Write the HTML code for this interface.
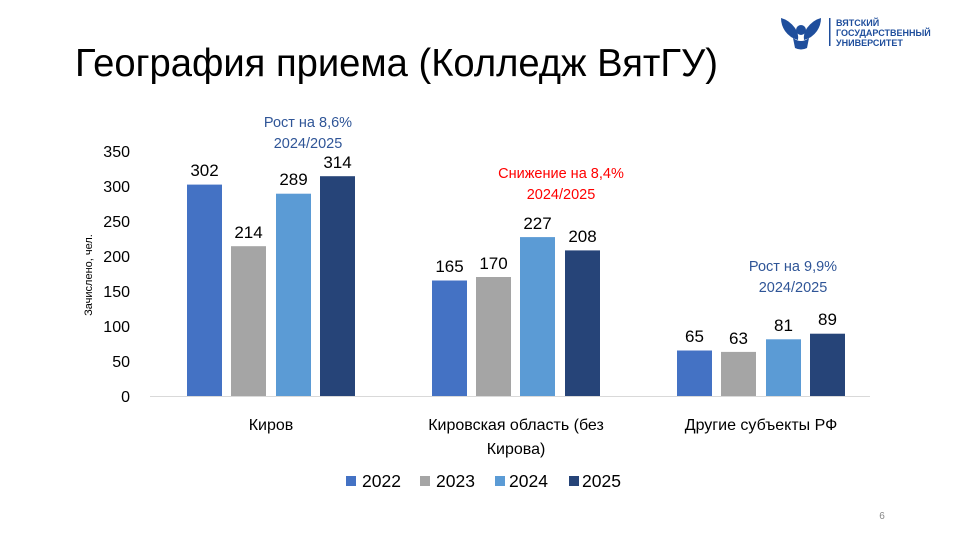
<!DOCTYPE html>
<html><head><meta charset="utf-8"><style>
body{margin:0;background:#fff;}
</style></head><body>
<svg width="960" height="540" xmlns="http://www.w3.org/2000/svg" font-family="Liberation Sans, sans-serif">
<rect width="960" height="540" fill="#fff"/>
<g fill="#1f4e9c">
<path d="M781 18 q8 2 14 10 q4 6 3 12 q-8 -2 -13 -9 q-4 -6 -4 -13z"/>
<path d="M821 18 q-8 2 -14 10 q-4 6 -3 12 q8 -2 13 -9 q4 -6 4 -13z"/>
<circle cx="801" cy="30" r="5"/>
<path d="M793 38 q8 6 16 0 l-2 10 q-6 3 -12 0z"/>
<rect x="829" y="18" width="1.5" height="28"/>
</g>
<text x="836" y="26" font-size="9" font-weight="bold" fill="#1f4e9c">ВЯТСКИЙ</text>
<text x="836" y="36" font-size="9" font-weight="bold" fill="#1f4e9c">ГОСУДАРСТВЕННЫЙ</text>
<text x="836" y="46" font-size="9" font-weight="bold" fill="#1f4e9c">УНИВЕРСИТЕТ</text>
<text x="75" y="76" font-size="39" fill="#000" textLength="643" lengthAdjust="spacingAndGlyphs">География приема (Колледж ВятГУ)</text>
<g font-size="16" fill="#000" text-anchor="end">
<text x="130" y="402">0</text><text x="130" y="367">50</text><text x="130" y="332">100</text>
<text x="130" y="297">150</text><text x="130" y="262">200</text><text x="130" y="227">250</text>
<text x="130" y="192">300</text><text x="130" y="157">350</text>
</g>
<text transform="translate(92,275) rotate(-90)" font-size="11" text-anchor="middle">Зачислено, чел.</text>
<line x1="150" y1="396.5" x2="870" y2="396.5" stroke="#d9d9d9" stroke-width="1"/>
<g>
<rect x="187" y="184.6" width="35" height="211.4" fill="#4472C4"/>
<rect x="231" y="246.2" width="35" height="149.8" fill="#A5A5A5"/>
<rect x="276" y="193.7" width="35" height="202.3" fill="#5B9BD5"/>
<rect x="320" y="176.2" width="35" height="219.8" fill="#264478"/>
<rect x="432" y="280.5" width="35" height="115.5" fill="#4472C4"/>
<rect x="476" y="277" width="35" height="119" fill="#A5A5A5"/>
<rect x="520" y="237.1" width="35" height="158.9" fill="#5B9BD5"/>
<rect x="565" y="250.4" width="35" height="145.6" fill="#264478"/>
<rect x="677" y="350.5" width="35" height="45.5" fill="#4472C4"/>
<rect x="721" y="351.9" width="35" height="44.1" fill="#A5A5A5"/>
<rect x="766" y="339.3" width="35" height="56.7" fill="#5B9BD5"/>
<rect x="810" y="333.7" width="35" height="62.3" fill="#264478"/>
</g>
<g font-size="17" fill="#000" text-anchor="middle">
<text x="204.5" y="176">302</text><text x="248.5" y="238">214</text><text x="293.5" y="185">289</text><text x="337.5" y="168">314</text>
<text x="449.5" y="272">165</text><text x="493.5" y="269">170</text><text x="537.5" y="229">227</text><text x="582.5" y="242">208</text>
<text x="694.5" y="342">65</text><text x="738.5" y="344">63</text><text x="783.5" y="331">81</text><text x="827.5" y="325">89</text>
</g>
<g font-size="14.5" text-anchor="middle">
<text x="308" y="127" fill="#2f5597">Рост на 8,6%</text>
<text x="308" y="148" fill="#2f5597">2024/2025</text>
<text x="561" y="178" fill="#ff0000">Снижение на 8,4%</text>
<text x="561" y="199" fill="#ff0000">2024/2025</text>
<text x="793" y="271" fill="#2f5597">Рост на 9,9%</text>
<text x="793" y="292" fill="#2f5597">2024/2025</text>
</g>
<g font-size="16" fill="#000" text-anchor="middle">
<text x="271" y="430">Киров</text>
<text x="516" y="430">Кировская область (без</text>
<text x="516" y="454">Кирова)</text>
<text x="761" y="430">Другие субъекты РФ</text>
</g>
<g font-size="17.5" fill="#000">
<rect x="346" y="476" width="10" height="10" fill="#4472C4"/><text x="362" y="487">2022</text>
<rect x="420" y="476" width="10" height="10" fill="#A5A5A5"/><text x="436" y="487">2023</text>
<rect x="495" y="476" width="10" height="10" fill="#5B9BD5"/><text x="509" y="487">2024</text>
<rect x="569" y="476" width="10" height="10" fill="#264478"/><text x="582" y="487">2025</text>
</g>
<text x="882" y="519" font-size="10" fill="#888" text-anchor="middle">6</text>
</svg>
</body></html>
